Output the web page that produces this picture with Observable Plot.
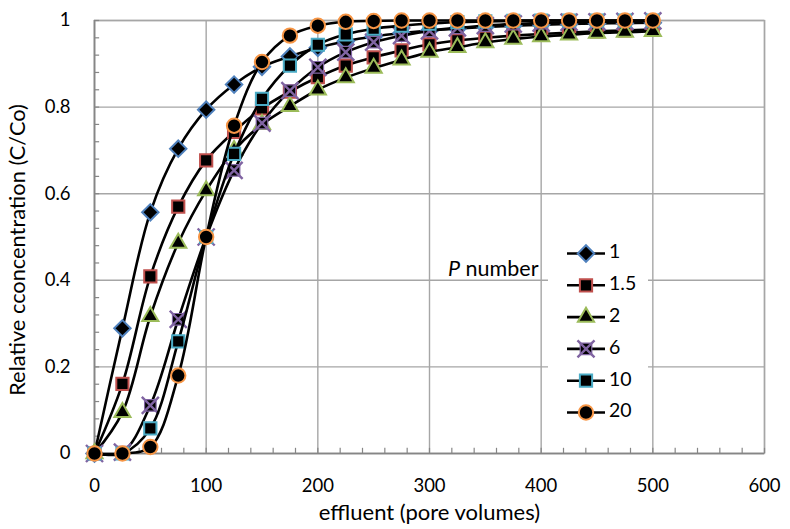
<!DOCTYPE html>
<html><head><meta charset="utf-8">
<script src="https://cdn.jsdelivr.net/npm/d3@7"></script>
<script src="https://cdn.jsdelivr.net/npm/@observablehq/plot@0.6"></script>
<style>
body{margin:0;background:#fff;}
#chart{position:relative;width:790px;height:529px;font-family:Lato, sans-serif;color:#000;}
#chart svg{display:block;}
#legend{position:absolute;left:0;top:0;pointer-events:none;}
</style></head><body><div id="chart"></div>
<script>
// ---- data ----
const effluent = [0,25,50,75,100,125,150,175,200,225,250,275,300,325,350,375,400,425,450,475,500];
const pNumbers = ["1","1.5","2","6","10","20"];
const cP1   = [0,0.289,0.557,0.704,0.794,0.852,0.893,0.917,0.937,0.952,0.963,0.971,0.977,0.981,0.985,0.988,0.990,0.992,0.993,0.994,0.995];
const cP1_5 = [0,0.161,0.409,0.570,0.677,0.743,0.797,0.836,0.869,0.896,0.915,0.931,0.945,0.954,0.960,0.965,0.969,0.972,0.975,0.977,0.979];
const cP2   = [0,0.095,0.317,0.486,0.607,0.700,0.760,0.802,0.840,0.868,0.890,0.909,0.927,0.938,0.949,0.957,0.963,0.967,0.971,0.973,0.975];
const cP6   = [0,0.003,0.111,0.310,0.500,0.654,0.763,0.838,0.892,0.927,0.950,0.965,0.976,0.983,0.988,0.992,0.994,0.996,0.997,0.998,0.999];
const cP10  = [0,0.000,0.058,0.259,0.500,0.692,0.819,0.896,0.944,0.968,0.981,0.988,0.993,0.996,0.998,0.999,1,1,1,1,1];
const cP20  = [0,0.000,0.015,0.180,0.500,0.757,0.904,0.965,0.988,0.997,0.999,1,1,1,1,1,1,1,1,1,1];
const seriesValues = [cP1, cP1_5, cP2, cP6, cP10, cP20];
const xTicks = [0,100,200,300,400,500,600];
const yTicks = [0,0.2,0.4,0.6,0.8,1];
const yTickLabels = ["0","0.2","0.4","0.6","0.8","1"];
const xMinor = d3.range(0, 601, 20);
const yMinor = d3.range(0, 1.0001, 0.04);
const xLabel = "effluent (pore volumes)";
const yLabel = "Relative cconcentration (C/Co)";
const legendTitle = ["P", " number"];

// ---- styles ----
const styles = [
  {symbol:"diamond2", color:"#4f81bd", r:7.4},
  {symbol:"square",   color:"#c0504d", r:6.9},
  {symbol:"triangle", color:"#9bbb59", r:6.0},
  {symbol:"square",   color:"#8064a2", r:6.5, cross:true},
  {symbol:"square",   color:"#4bacc6", r:6.9},
  {symbol:"circle",   color:"#f79646", r:7.2}
];
const gridColor = "#a6a6a6";
const axisColor = "#868686";

const marks = [
  Plot.gridX(xTicks, {stroke: gridColor, strokeOpacity: 1, strokeWidth: 1.4}),
  Plot.gridY(yTicks, {stroke: gridColor, strokeOpacity: 1, strokeWidth: 1.4}),
  Plot.frame({stroke: gridColor, strokeWidth: 1.4}),
  Plot.ruleX(xMinor, {y1: 0, y2: 0.012, stroke: axisColor, strokeWidth: 1.2}),
  Plot.ruleY(yMinor, {x1: 0, x2: 4.6, stroke: axisColor, strokeWidth: 1.2}),
  Plot.ruleX([0], {stroke: axisColor, strokeWidth: 1.6}),
  Plot.ruleY([0], {stroke: axisColor, strokeWidth: 1.6}),
  Plot.axisX(xTicks, {tickSize: 0, tickPadding: 25, fontSize: 18.5, label: null}),
  Plot.axisY(yTicks, {tickSize: 0, tickPadding: 24, fontSize: 18.5, label: null,
    tickFormat: (d, i) => yTickLabels[i]}),
  Plot.text([xLabel], {text: d => d, frameAnchor: "bottom", lineAnchor: "middle", textAnchor: "middle", dy: 59, fontSize: 22}),
  Plot.text([yLabel], {text: d => d, frameAnchor: "left", lineAnchor: "middle", textAnchor: "middle", rotate: -90, dx: -76, dy: 13, fontSize: 21.8})
];

seriesValues.forEach((vals, i) => {
  const st = styles[i];
  const rows = effluent.map((x, j) => ({x, y: vals[j]}));
  marks.push(Plot.line(rows, {x: "x", y: "y", stroke: "#000", strokeWidth: 2.6, curve: "catmull-rom"}));
  marks.push(Plot.dot(rows, {x: "x", y: "y", symbol: st.symbol, r: st.r, fill: "#000",
    stroke: st.color, strokeWidth: st.cross ? 1.2 : 2}));
  if (st.cross) marks.push(Plot.dot(rows, {x: "x", y: "y", symbol: "times", r: st.r * 1.2,
    stroke: st.color, strokeWidth: 2.4}));
});

const chart = Plot.plot({
  width: 790, height: 529,
  marginLeft: 94, marginRight: 26, marginTop: 20, marginBottom: 76,
  x: {domain: [0, 600]},
  y: {domain: [0, 1]},
  style: {fontFamily: "Lato, sans-serif", fontSize: "18px", color: "#000", background: "#fff"},
  marks
});
const root = document.getElementById("chart");
root.appendChild(chart);

// ---- legend overlay ----
const lg = d3.select(root).append("svg").attr("id", "legend").attr("width", 790).attr("height", 529);
lg.append("rect").attr("x", 548).attr("y", 236).attr("width", 100).attr("height", 194).attr("fill", "#fff");
const t = lg.append("text").attr("x", 448).attr("y", 271).attr("dominant-baseline", "middle")
  .attr("font-family", "Lato, sans-serif").attr("font-size", 21.5);
t.append("tspan").attr("font-style", "italic").text(legendTitle[0]);
t.append("tspan").text(legendTitle[1]);
pNumbers.forEach((name, i) => {
  const st = styles[i];
  const y = 253.5 + i * 31.8;
  const g = lg.append("g");
  g.append("line").attr("x1", 567).attr("x2", 605).attr("y1", y).attr("y2", y).attr("stroke", "#000").attr("stroke-width", 2.6);
  const symMap = {diamond2: d3.symbolDiamond2, square: d3.symbolSquare, triangle: d3.symbolTriangle, circle: d3.symbolCircle};
  g.append("path").attr("transform", `translate(586,${y})`)
    .attr("d", d3.symbol(symMap[st.symbol], st.r * st.r * Math.PI)())
    .attr("fill", "#000").attr("stroke", st.color).attr("stroke-width", st.cross ? 1.2 : 2);
  if (st.cross) g.append("path").attr("transform", `translate(586,${y})`)
    .attr("d", d3.symbol(d3.symbolTimes, (st.r*1.2) * (st.r*1.2) * Math.PI)())
    .attr("fill", "none").attr("stroke", st.color).attr("stroke-width", 2.4);
  g.append("text").attr("x", 609).attr("y", y).attr("dominant-baseline", "middle")
    .attr("font-family", "Lato, sans-serif").attr("font-size", 19.5).text(name);
});
</script></body></html>
